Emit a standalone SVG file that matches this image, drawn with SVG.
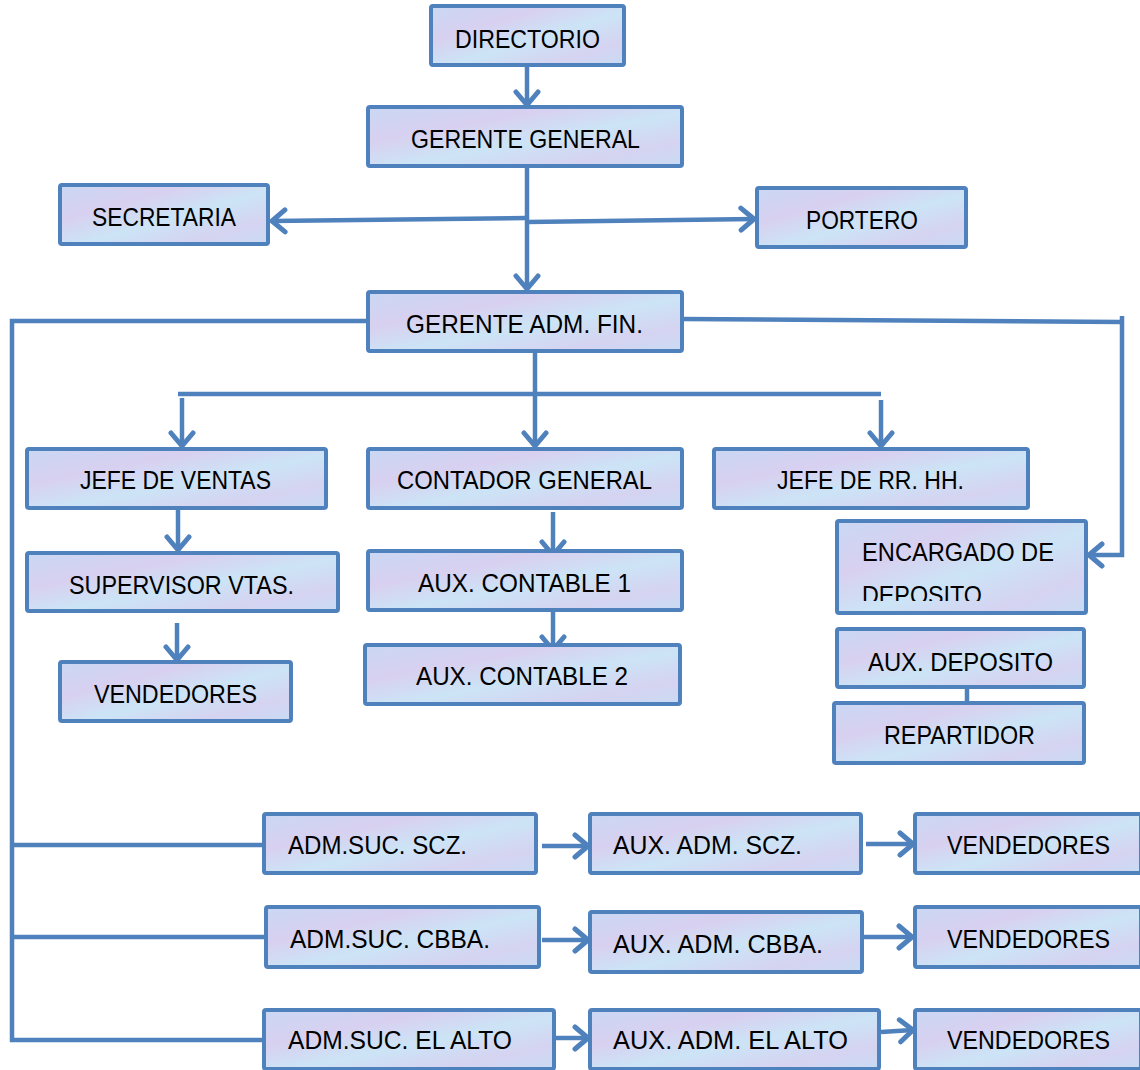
<svg xmlns="http://www.w3.org/2000/svg" width="1140" height="1070" viewBox="0 0 1140 1070">
<style>
.box{fill:url(#tex);stroke:#4f81bd;stroke-width:4;}
.t{font-family:"Liberation Sans",Arial,sans-serif;font-size:25px;fill:#000;}
.c{fill:none;stroke:#4f81bd;stroke-width:4.5;}
.a{marker-end:url(#arr);}
</style>
<defs>
<linearGradient id="tex" x1="0" y1="0" x2="1" y2="1">
<stop offset="0" stop-color="#c9d8f4"/>
<stop offset="0.3" stop-color="#d8d0f0"/>
<stop offset="0.55" stop-color="#cce4f6"/>
<stop offset="0.8" stop-color="#d5d3f1"/>
<stop offset="1" stop-color="#c9dbf3"/>
</linearGradient>
<marker id="arr" viewBox="0 0 20 28" refX="16" refY="14" markerWidth="20" markerHeight="28" markerUnits="userSpaceOnUse" orient="auto">
<path d="M3,3 L16,14 L3,25" fill="none" stroke="#4f81bd" stroke-width="5" stroke-linecap="round" stroke-linejoin="round"/>
</marker>
<clipPath id="encClip"><rect x="837" y="521" width="249" height="80"/></clipPath>
</defs>
<rect width="1140" height="1070" fill="#fff"/>

<g id="connectors">
<path class="c a" d="M527,65 L527,105"/>
<path class="c a" d="M527,166 L527,289"/>
<path class="c a" d="M527,218 L272,221"/>
<path class="c a" d="M527,222 L754,219"/>
<path class="c" d="M368,321 L12,321 L12,1040 L264,1040"/>
<path class="c" d="M12,845 L264,845"/>
<path class="c" d="M12,937 L266,937"/>
<path class="c" d="M682,319 L1122,322"/>
<path class="c a" d="M1122,316 L1122,555 L1089,555"/>
<path class="c a" d="M535,345 L535,446"/>
<path class="c" d="M178,394 L881,394"/>
<path class="c a" d="M182,398 L182,446"/>
<path class="c a" d="M881,400 L881,446"/>
<path class="c a" d="M178,508 L178,550"/>
<path class="c a" d="M177,623 L177,660"/>
<path class="c a" d="M553,512 L553,555"/>
<path class="c a" d="M553,612 L553,650"/>
<path class="c" d="M967,687 L967,703"/>
<path class="c a" d="M542,846 L588,846"/>
<path class="c a" d="M866,844 L913,844"/>
<path class="c a" d="M542,940 L588,940"/>
<path class="c a" d="M864,937 L912,937"/>
<path class="c a" d="M556,1038 L588,1038"/>
<path class="c a" d="M881,1032 L913,1030"/>
</g>

<g id="n-directorio"><rect class="box" x="431" y="6" width="193" height="59" rx="2"/><text class="t" x="455" y="48" textLength="145" lengthAdjust="spacingAndGlyphs">DIRECTORIO</text></g>
<g id="n-gerente-general"><rect class="box" x="368" y="107" width="314" height="59" rx="2"/><text class="t" x="411" y="148" textLength="229" lengthAdjust="spacingAndGlyphs">GERENTE GENERAL</text></g>
<g id="n-secretaria"><rect class="box" x="60" y="185" width="208" height="59" rx="2"/><text class="t" x="92" y="226" textLength="144" lengthAdjust="spacingAndGlyphs">SECRETARIA</text></g>
<g id="n-portero"><rect class="box" x="757" y="188" width="209" height="59" rx="2"/><text class="t" x="806" y="229" textLength="112" lengthAdjust="spacingAndGlyphs">PORTERO</text></g>
<g id="n-gerente-adm"><rect class="box" x="368" y="292" width="314" height="59" rx="2"/><text class="t" x="406" y="333" textLength="237" lengthAdjust="spacingAndGlyphs">GERENTE ADM. FIN.</text></g>
<g id="n-jefe-ventas"><rect class="box" x="27" y="449" width="299" height="59" rx="2"/><text class="t" x="80" y="489" textLength="191" lengthAdjust="spacingAndGlyphs">JEFE DE VENTAS</text></g>
<g id="n-contador"><rect class="box" x="368" y="449" width="314" height="59" rx="2"/><text class="t" x="397" y="489" textLength="255" lengthAdjust="spacingAndGlyphs">CONTADOR GENERAL</text></g>
<g id="n-jefe-rrhh"><rect class="box" x="714" y="449" width="314" height="59" rx="2"/><text class="t" x="777" y="489" textLength="187" lengthAdjust="spacingAndGlyphs">JEFE DE RR. HH.</text></g>
<g id="n-encargado"><rect class="box" x="837" y="521" width="249" height="92" rx="2"/><g clip-path="url(#encClip)"><text class="t" x="862" y="561" textLength="192" lengthAdjust="spacingAndGlyphs">ENCARGADO DE</text><text class="t" x="862" y="604" textLength="120" lengthAdjust="spacingAndGlyphs">DEPOSITO</text></g></g>
<g id="n-aux-deposito"><rect class="box" x="837" y="629" width="247" height="58" rx="2"/><text class="t" x="868" y="671" textLength="185" lengthAdjust="spacingAndGlyphs">AUX. DEPOSITO</text></g>
<g id="n-repartidor"><rect class="box" x="834" y="703" width="250" height="60" rx="2"/><text class="t" x="884" y="744" textLength="151" lengthAdjust="spacingAndGlyphs">REPARTIDOR</text></g>
<g id="n-supervisor"><rect class="box" x="27" y="553" width="311" height="58" rx="2"/><text class="t" x="69" y="594" textLength="225" lengthAdjust="spacingAndGlyphs">SUPERVISOR VTAS.</text></g>
<g id="n-vendedores-0"><rect class="box" x="60" y="662" width="231" height="59" rx="2"/><text class="t" x="94" y="703" textLength="163" lengthAdjust="spacingAndGlyphs">VENDEDORES</text></g>
<g id="n-aux-contable-1"><rect class="box" x="368" y="551" width="314" height="59" rx="2"/><text class="t" x="418" y="592" textLength="213" lengthAdjust="spacingAndGlyphs">AUX. CONTABLE 1</text></g>
<g id="n-aux-contable-2"><rect class="box" x="365" y="645" width="315" height="59" rx="2"/><text class="t" x="416" y="685" textLength="212" lengthAdjust="spacingAndGlyphs">AUX. CONTABLE 2</text></g>
<g id="n-adm-scz"><rect class="box" x="264" y="814" width="272" height="59" rx="2"/><text class="t" x="288" y="854" textLength="179" lengthAdjust="spacingAndGlyphs">ADM.SUC. SCZ.</text></g>
<g id="n-aux-scz"><rect class="box" x="590" y="814" width="271" height="59" rx="2"/><text class="t" x="613" y="854" textLength="189" lengthAdjust="spacingAndGlyphs">AUX. ADM. SCZ.</text></g>
<g id="n-vend-scz"><rect class="box" x="915" y="814" width="226" height="59" rx="2"/><text class="t" x="947" y="854" textLength="163" lengthAdjust="spacingAndGlyphs">VENDEDORES</text></g>
<g id="n-adm-cbba"><rect class="box" x="266" y="907" width="273" height="60" rx="2"/><text class="t" x="290" y="948" textLength="200" lengthAdjust="spacingAndGlyphs">ADM.SUC. CBBA.</text></g>
<g id="n-aux-cbba"><rect class="box" x="590" y="912" width="272" height="60" rx="2"/><text class="t" x="613" y="953" textLength="210" lengthAdjust="spacingAndGlyphs">AUX. ADM. CBBA.</text></g>
<g id="n-vend-cbba"><rect class="box" x="915" y="907" width="226" height="60" rx="2"/><text class="t" x="947" y="948" textLength="163" lengthAdjust="spacingAndGlyphs">VENDEDORES</text></g>
<g id="n-adm-alto"><rect class="box" x="264" y="1010" width="290" height="59" rx="2"/><text class="t" x="288" y="1049" textLength="224" lengthAdjust="spacingAndGlyphs">ADM.SUC. EL ALTO</text></g>
<g id="n-aux-alto"><rect class="box" x="590" y="1010" width="289" height="59" rx="2"/><text class="t" x="613" y="1049" textLength="235" lengthAdjust="spacingAndGlyphs">AUX. ADM. EL ALTO</text></g>
<g id="n-vend-alto"><rect class="box" x="915" y="1010" width="226" height="59" rx="2"/><text class="t" x="947" y="1049" textLength="163" lengthAdjust="spacingAndGlyphs">VENDEDORES</text></g>
</svg>
